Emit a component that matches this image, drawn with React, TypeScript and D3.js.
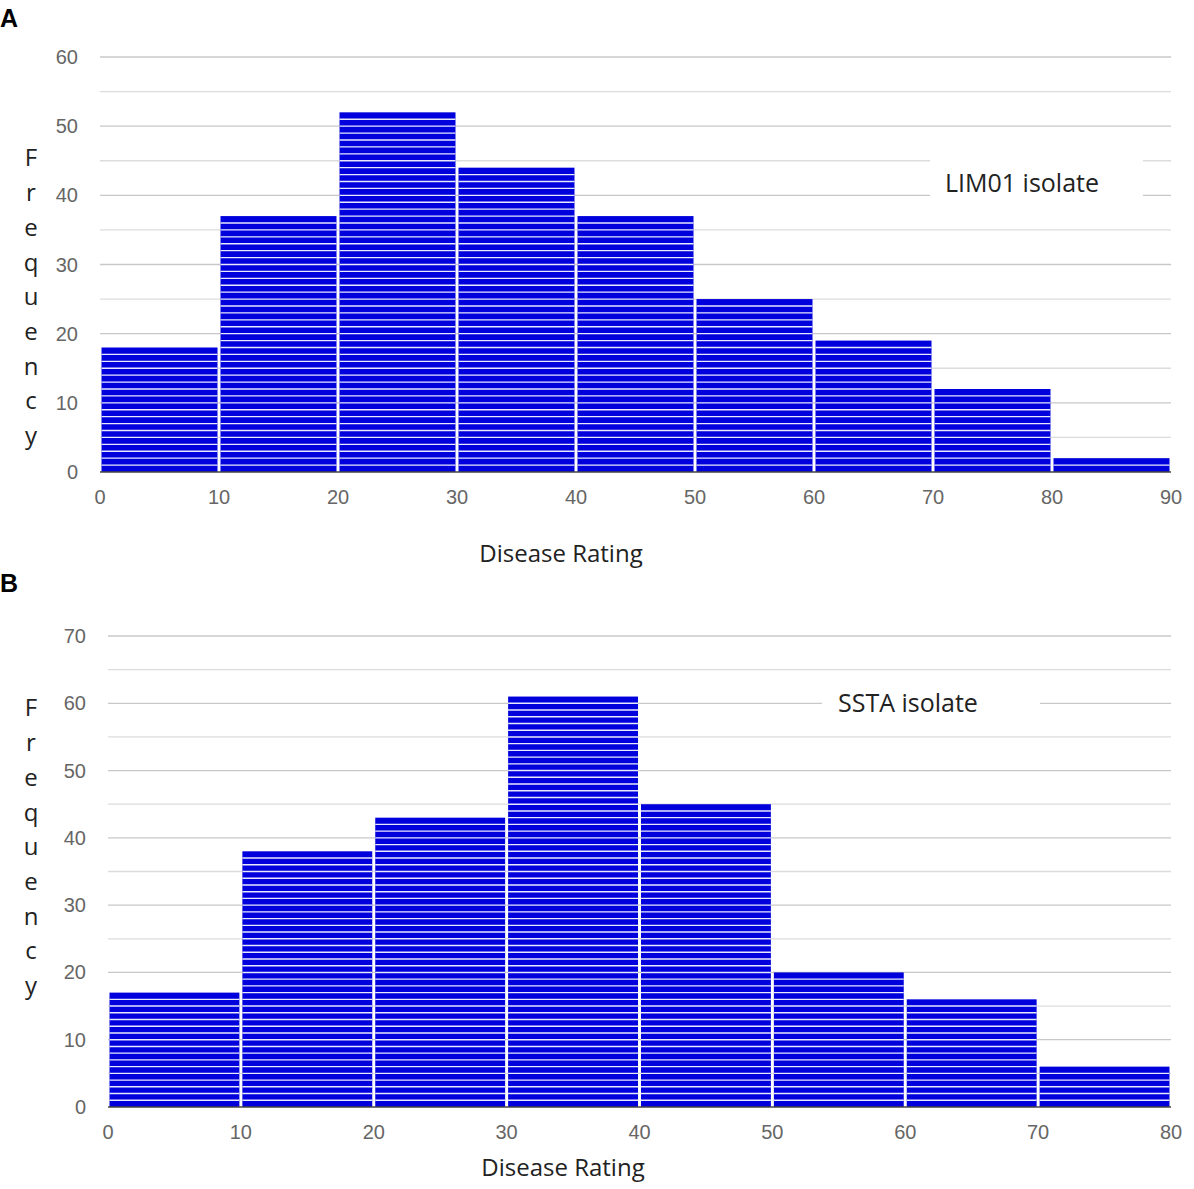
import * as d3 from "d3";
import { useEffect } from "react";

// bin starts (disease rating) and counts for each isolate
const binsA = [0, 10, 20, 30, 40, 50, 60, 70, 80];
const countsA = [18, 37, 52, 44, 37, 25, 19, 12, 2];
const ticksXA = [0, 10, 20, 30, 40, 50, 60, 70, 80, 90];
const ticksYA = [0, 10, 20, 30, 40, 50, 60];

const binsB = [0, 10, 20, 30, 40, 50, 60, 70];
const countsB = [17, 38, 43, 61, 45, 20, 16, 6];
const ticksXB = [0, 10, 20, 30, 40, 50, 60, 70, 80];
const ticksYB = [0, 10, 20, 30, 40, 50, 60, 70];

const yLetters = "Frequency".split("");

type PanelProps = {
  letter: string;
  letterY: number;
  bins: number[];
  counts: number[];
  ticksX: number[];
  ticksY: number[];
  xRange: [number, number];
  yRange: [number, number];
  label: string;
  labelBox: [number, number, number, number];
  labelX: number;
  labelY: number;
  freqTop: number;
  titleX: number;
  titleY: number;
};

const Panel = (p: PanelProps) => {
  const xMax = p.ticksX[p.ticksX.length - 1];
  const yMax = p.ticksY[p.ticksY.length - 1];
  const x = d3.scaleLinear().domain([0, xMax]).range(p.xRange);
  const y = d3.scaleLinear().domain([0, yMax]).range(p.yRange);
  const grid = d3.range(5, yMax + 1, 5);
  const [bx, by, bw, bh] = p.labelBox;

  return (
    <g>
      <text
        x={0}
        y={p.letterY}
        fontFamily="Liberation Sans, Arial, sans-serif"
        fontWeight="bold"
        fontSize={25}
      >
        {p.letter}
      </text>
      {grid.map((g) => (
        <line
          key={g}
          x1={p.xRange[0]}
          x2={p.xRange[1]}
          y1={y(g)}
          y2={y(g)}
          stroke={g % 10 === 0 ? "#c8c8c8" : "#dcdcdc"}
          strokeWidth={1.3}
        />
      ))}
      <rect x={bx} y={by} width={bw} height={bh} fill="white" />
      <text
        x={p.labelX}
        y={p.labelY}
        dy="0.35em"
        fontFamily="Open Sans, sans-serif"
        fontSize={25}
        fill="#222"
      >
        {p.label}
      </text>
      {p.ticksY.map((t) => (
        <text
          key={t}
          x={p.xRange[0] - 22}
          y={y(t)}
          dy="0.35em"
          textAnchor="end"
          fontFamily="Liberation Sans, Arial, sans-serif"
          fontSize={20}
          fill="#666"
        >
          {t}
        </text>
      ))}
      {p.bins.map((b, i) => {
        const x0 = x(b) + 1.5;
        const x1 = x(b + 10) - 1.5;
        return (
          <g key={b}>
            <rect
              x={x0}
              y={y(p.counts[i])}
              width={x1 - x0}
              height={y(0) - y(p.counts[i])}
              fill="#0000dc"
            />
            {d3.range(1, p.counts[i]).map((k) => (
              <line
                key={k}
                x1={x0}
                x2={x1}
                y1={y(k)}
                y2={y(k)}
                stroke="#e8e8ff"
                strokeWidth={1.4}
              />
            ))}
          </g>
        );
      })}
      <line
        x1={p.xRange[0]}
        x2={p.xRange[1]}
        y1={y(0)}
        y2={y(0)}
        stroke="#444"
        strokeWidth={1.5}
      />
      {p.ticksX.map((t) => (
        <text
          key={t}
          x={x(t)}
          y={y(0) + 25}
          dy="0.35em"
          textAnchor="middle"
          fontFamily="Liberation Sans, Arial, sans-serif"
          fontSize={20}
          fill="#666"
        >
          {t}
        </text>
      ))}
      <text
        x={p.titleX}
        y={p.titleY}
        dy="0.35em"
        textAnchor="middle"
        fontFamily="Open Sans, sans-serif"
        fontSize={24}
        fill="#222"
      >
        Disease Rating
      </text>
      {yLetters.map((c, i) => (
        <text
          key={i}
          x={31}
          y={p.freqTop + i * 34.7}
          dy="0.35em"
          textAnchor="middle"
          fontFamily="Open Sans, sans-serif"
          fontSize={24}
          fill="#222"
        >
          {c}
        </text>
      ))}
    </g>
  );
};

const App = () => {
  useEffect(() => {
    document.body.style.margin = "0";
  }, []);

  return (
    <svg width={1194} height={1189} style={{ display: "block", background: "white" }}>
      <Panel
        letter="A"
        letterY={27}
        bins={binsA}
        counts={countsA}
        ticksX={ticksXA}
        ticksY={ticksYA}
        xRange={[100, 1171]}
        yRange={[472, 57]}
        label="LIM01 isolate"
        labelBox={[930, 150, 213, 60]}
        labelX={945}
        labelY={183}
        freqTop={158}
        titleX={561}
        titleY={554}
      />
      <Panel
        letter="B"
        letterY={592}
        bins={binsB}
        counts={countsB}
        ticksX={ticksXB}
        ticksY={ticksYB}
        xRange={[108, 1171]}
        yRange={[1107, 636]}
        label="SSTA isolate"
        labelBox={[822, 682, 218, 42]}
        labelX={838}
        labelY={703}
        freqTop={708}
        titleX={563}
        titleY={1168}
      />
    </svg>
  );
};

export default App;
